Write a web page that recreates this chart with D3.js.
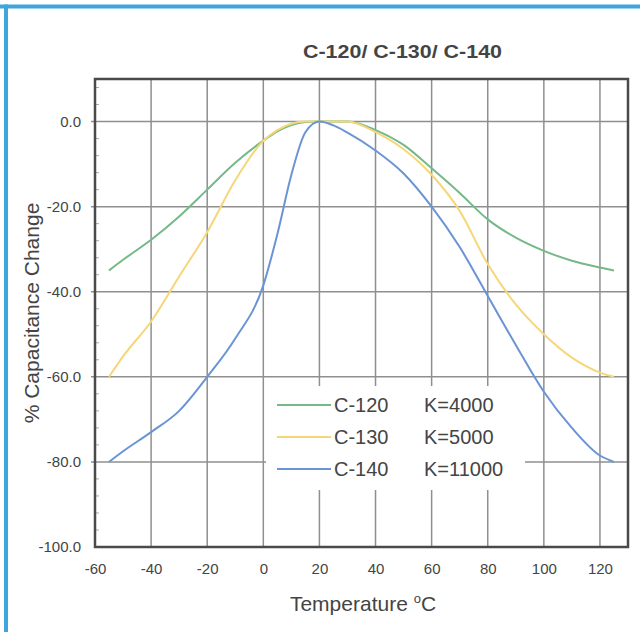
<!DOCTYPE html>
<html>
<head>
<meta charset="utf-8">
<script src="https://cdn.jsdelivr.net/npm/d3@7"></script>
<style>
  body { margin: 0; background: #fff; }
  svg { display: block; font-family: "Liberation Sans", Arial, sans-serif; }
</style>
</head>
<body>
<script>
const temps = [-55, -50, -40, -30, -20, -10, 0, 5, 10, 15, 20, 25, 30, 40, 50, 60, 70, 80, 90, 100, 110, 120, 125];
const c120 = [-35, -32.5, -27.8, -22.3, -16, -9.7, -4.5, -2.3, -0.8, -0.1, 0, 0, 0, -2, -5.5, -11, -16.8, -23, -27.3, -30.4, -32.7, -34.3, -35];
const c130 = [-60, -55.2, -47, -36.4, -26, -13.8, -4.5, -2, -0.5, 0, 0, 0, 0, -2.5, -6.5, -12.5, -21, -33.5, -43, -50, -55.5, -59, -60];
const c140 = [-80, -77.5, -73, -68, -60, -51, -38.5, -26.5, -12.5, -2.5, 0, -0.9, -2.6, -6.8, -12.2, -20, -29.5, -41, -52.5, -63.5, -72, -78.5, -80];

const seriesNames = ["C-120", "C-130", "C-140"];
const seriesK = ["K=4000", "K=5000", "K=11000"];
const seriesColors = ["#74b987", "#f5d778", "#6b94d4"];

const xTicks = [-60, -40, -20, 0, 20, 40, 60, 80, 100, 120];
const yTicks = [0, -20, -40, -60, -80, -100];

const width = 640, height = 632;
const margin = {top: 79, right: 12, bottom: 85, left: 95};

const svg = d3.select("body").append("svg")
  .attr("width", width)
  .attr("height", height);

// blue frame on top and left
svg.append("line").attr("x1", 0).attr("x2", width).attr("y1", 6.5).attr("y2", 6.5)
  .attr("stroke", "#3ea6da").attr("stroke-width", 4);
svg.append("line").attr("x1", 6).attr("x2", 6).attr("y1", 4.5).attr("y2", height)
  .attr("stroke", "#3ea6da").attr("stroke-width", 4);

const x = d3.scaleLinear().domain([-60, 130]).range([margin.left, width - margin.right]);
const y = d3.scaleLinear().domain([-100, 10]).range([height - margin.bottom, margin.top]);

const g = svg.append("g");

// grid
g.selectAll(".vgrid").data(xTicks.filter(d => d > -60))
  .enter().append("line")
  .attr("x1", d => x(d)).attr("x2", d => x(d))
  .attr("y1", y(10)).attr("y2", y(-100))
  .attr("stroke", "#8f8f8f").attr("stroke-width", 1.5);
g.selectAll(".hgrid").data(yTicks.filter(d => d > -100))
  .enter().append("line")
  .attr("x1", x(-60) - 4).attr("x2", x(130))
  .attr("y1", d => y(d)).attr("y2", d => y(d))
  .attr("stroke", "#8f8f8f").attr("stroke-width", 1.5);

// minor ticks inside left border
const minor = d3.range(-96, 10, 4).filter(d => d % 20 !== 0);
g.selectAll(".minor").data(minor)
  .enter().append("line")
  .attr("x1", x(-60)).attr("x2", x(-60) + 4)
  .attr("y1", d => y(d)).attr("y2", d => y(d))
  .attr("stroke", "#aaa").attr("stroke-width", 1);

// axes labels via d3 axes, lines hidden
const xAxis = svg.append("g")
  .attr("transform", "translate(0," + (y(-100) + 6) + ")")
  .call(d3.axisBottom(x).tickValues(xTicks).tickSize(0).tickPadding(10).tickFormat(d => String(d)));
xAxis.select(".domain").remove();
xAxis.selectAll("text").attr("font-size", 15).attr("fill", "#444")
  .attr("font-family", "Liberation Sans, Arial, sans-serif");

const yAxis = svg.append("g")
  .attr("transform", "translate(" + (x(-60) - 6) + ",0)")
  .call(d3.axisLeft(y).tickValues(yTicks).tickSize(0).tickPadding(8).tickFormat(d => d.toFixed(1)));
yAxis.select(".domain").remove();
yAxis.selectAll("text").attr("font-size", 15).attr("fill", "#444")
  .attr("font-family", "Liberation Sans, Arial, sans-serif");

// legend background
g.append("rect")
  .attr("x", 266).attr("y", 386).attr("width", 259).attr("height", 104)
  .attr("fill", "#fff");

// curves
const line = d3.line()
  .x(d => x(d[0]))
  .y(d => y(d[1]))
  .curve(d3.curveMonotoneX);

[c120, c130, c140].forEach((vals, i) => {
  svg.append("path")
    .datum(temps.map((t, j) => [t, vals[j]]))
    .attr("fill", "none")
    .attr("stroke", seriesColors[i])
    .attr("stroke-width", 2)
    .attr("stroke-linejoin", "round")
    .attr("d", line);
});

// plot border
svg.append("rect")
  .attr("x", x(-60)).attr("y", y(10))
  .attr("width", x(130) - x(-60)).attr("height", y(-100) - y(10))
  .attr("fill", "none").attr("stroke", "#4a4a4a").attr("stroke-width", 2.5);

// legend
const leg = svg.append("g");
seriesNames.forEach((name, i) => {
  const ly = 405 + i * 32;
  leg.append("line").attr("x1", 277).attr("x2", 331).attr("y1", ly).attr("y2", ly)
    .attr("stroke", seriesColors[i]).attr("stroke-width", 2);
  leg.append("text").attr("x", 334).attr("y", ly).attr("dy", "0.36em")
    .attr("font-size", 20).attr("fill", "#444").text(name);
  leg.append("text").attr("x", 424).attr("y", ly).attr("dy", "0.36em")
    .attr("font-size", 20).attr("fill", "#444").text(seriesK[i]);
});

// title
svg.append("text").attr("x", 303).attr("y", 58)
  .attr("font-size", 19).attr("font-weight", "bold")
  .attr("textLength", 199).attr("lengthAdjust", "spacingAndGlyphs")
  .attr("fill", "#444").text("C-120/ C-130/ C-140");

// axis titles
const xt = svg.append("text").attr("x", 363).attr("y", 611)
  .attr("text-anchor", "middle").attr("font-size", 21).attr("fill", "#444");
xt.append("tspan").text("Temperature ");
xt.append("tspan").attr("font-size", 13).attr("dy", -8).text("o");
xt.append("tspan").attr("dy", 8).text("C");

svg.append("text")
  .attr("transform", "translate(39,313) rotate(-90)")
  .attr("text-anchor", "middle").attr("font-size", 21).attr("fill", "#444")
  .text("% Capacitance Change");
</script>
</body>
</html>
